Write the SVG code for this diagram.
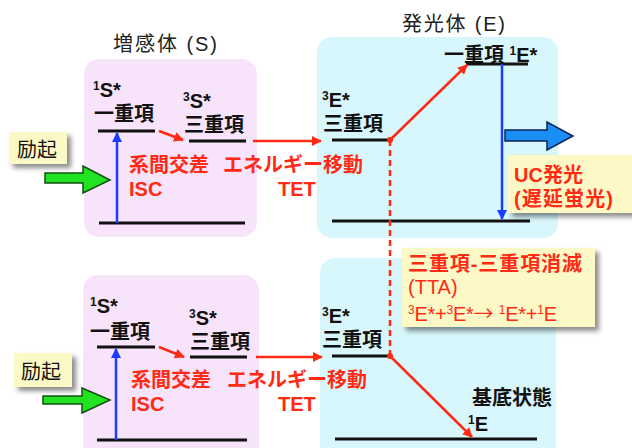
<svg xmlns="http://www.w3.org/2000/svg" width="632" height="448" viewBox="0 0 632 448">
<defs>
<style>
text{font-family:"Liberation Sans","Noto Sans CJK JP",sans-serif;}
.title{font-size:20px;fill:#222;}
.lbl{font-size:20px;font-weight:bold;fill:#111;}
.red{font-size:20px;fill:#ff2a14;font-weight:bold;}
.sup{font-size:12px;}
.cjk{font-family:"Noto Sans CJK JP",sans-serif;}
.sbox{fill:#f7e3fa;}
.ebox{fill:#d8f7fd;}
.ybox{fill:#fdf9c6;filter:url(#sh);}
.lvl{stroke:#111;stroke-width:3;fill:none;}
.ra{stroke:#ff2a14;stroke-width:2.5;fill:none;marker-end:url(#rh);}
.ba{stroke:#1a3cff;stroke-width:2.5;fill:none;marker-end:url(#bh);}
.green{fill:#22e322;stroke:#135013;stroke-width:1.5;}
.blue{fill:#1a8ef2;stroke:#0b2450;stroke-width:1.5;}
</style>
<filter id="sh" x="-20%" y="-20%" width="150%" height="160%">
<feDropShadow dx="4" dy="4" stdDeviation="2.5" flood-color="#000" flood-opacity="0.45"/>
</filter>
<marker id="rh" viewBox="0 0 10 10" refX="9" refY="5" markerWidth="4" markerHeight="4" orient="auto" markerUnits="strokeWidth">
<path d="M0,0 L10,5 L0,10 z" fill="#ff2a14"/>
</marker>
<marker id="bh" viewBox="0 0 10 10" refX="9" refY="5" markerWidth="4" markerHeight="4" orient="auto" markerUnits="strokeWidth">
<path d="M0,0 L10,5 L0,10 z" fill="#1a3cff"/>
</marker>
</defs>

<rect width="632" height="448" fill="#fff"/>

<text class="title" x="113" y="51" textLength="104" lengthAdjust="spacing">増感体 (S)</text>
<text class="title" x="402" y="31" textLength="103" lengthAdjust="spacing">発光体 (E)</text>

<g id="sens-top">
<rect class="sbox" x="84" y="59" width="173" height="178" rx="15"/>
<text class="lbl" x="93" y="97"><tspan class="sup" dy="-7">1</tspan><tspan dy="7">S*</tspan></text>
<text class="lbl" x="94" y="121">一重項</text>
<line class="lvl" x1="98" y1="131" x2="155" y2="131"/>
<text class="lbl" x="183" y="108"><tspan class="sup" dy="-7">3</tspan><tspan dy="7">S*</tspan></text>
<text class="lbl" x="184" y="132">三重項</text>
<line class="lvl" x1="189" y1="141" x2="246" y2="141"/>
<line class="lvl" x1="99" y1="223" x2="245" y2="223"/>
<text class="red" x="129" y="172">系間交差</text>
<text class="red" x="129" y="196">ISC</text>
</g>

<g id="sens-bottom">
<rect class="sbox" x="83" y="275" width="176" height="190" rx="15"/>
<text class="lbl" x="90" y="313"><tspan class="sup" dy="-7">1</tspan><tspan dy="7">S*</tspan></text>
<text class="lbl" x="90" y="339">一重項</text>
<line class="lvl" x1="97" y1="347" x2="155" y2="347"/>
<text class="lbl" x="189" y="325"><tspan class="sup" dy="-7">3</tspan><tspan dy="7">S*</tspan></text>
<text class="lbl" x="190" y="349">三重項</text>
<line class="lvl" x1="190" y1="357" x2="247" y2="357"/>
<line class="lvl" x1="97" y1="440" x2="247" y2="440"/>
<text class="red" x="131" y="387">系間交差</text>
<text class="red" x="131" y="411">ISC</text>
</g>

<g id="emit-top">
<rect class="ebox" x="317" y="37" width="241" height="201" rx="15"/>
<text class="lbl" x="322" y="107"><tspan class="sup" dy="-7">3</tspan><tspan dy="7">E*</tspan></text>
<text class="lbl" x="323" y="131">三重項</text>
<line class="lvl" x1="332" y1="140" x2="390" y2="140"/>
<text class="lbl" x="444" y="62">一重項 <tspan class="sup" dy="-7">1</tspan><tspan dy="7">E*</tspan></text>
<line class="lvl" x1="466" y1="64" x2="528" y2="64"/>
<line class="lvl" x1="332" y1="221" x2="530" y2="221"/>
</g>

<g id="emit-bottom">
<rect class="ebox" x="320" y="258" width="236" height="200" rx="15"/>
<text class="lbl" x="322" y="323"><tspan class="sup" dy="-7">3</tspan><tspan dy="7">E*</tspan></text>
<text class="lbl" x="322" y="347">三重項</text>
<line class="lvl" x1="332" y1="356" x2="390" y2="356"/>
<text class="lbl" x="472" y="405">基底状態</text>
<text class="lbl" x="468" y="431"><tspan class="sup" dy="-7">1</tspan><tspan dy="7">E</tspan></text>
<line class="lvl" x1="335" y1="439" x2="537" y2="439"/>
</g>

<g id="tet-labels">
<text class="red" x="223" y="172">エネルギー移動</text>
<text class="red" x="278" y="196">TET</text>
<text class="red" x="227" y="387">エネルギー移動</text>
<text class="red" x="278" y="411">TET</text>
</g>

<g id="excite-top">
<rect class="ybox" x="9" y="132" width="58" height="32"/>
<text class="lbl" x="17" y="157" style="font-weight:normal">励起</text>
<path class="green" d="M45,173 L83,173 L83,166 L110,180 L83,193 L83,183 L45,183 z"/>
</g>

<g id="excite-bottom">
<rect class="ybox" x="14" y="353" width="58" height="34"/>
<text class="lbl" x="21" y="379" style="font-weight:normal">励起</text>
<path class="green" d="M43,396 L82,396 L82,388 L110,400 L82,413 L82,404 L43,404 z"/>
</g>

<g id="uc">
<path class="blue" d="M505,130 L547,130 L547,122 L573,136 L547,150 L547,141 L505,141 z"/>
<rect class="ybox" x="508" y="155" width="130" height="58"/>
<text class="red" x="514" y="182">UC発光</text>
<text class="red" x="514" y="206" textLength="99" lengthAdjust="spacing">(遅延蛍光)</text>
</g>

<g id="tta">
<rect class="ybox" x="402" y="248" width="193" height="79"/>
<text class="red" x="408" y="271" textLength="174" lengthAdjust="spacing">三重項-三重項消滅</text>
<text class="red" x="408" y="294" style="font-weight:normal">(TTA)</text>
<text class="red" x="408" y="321" style="font-weight:normal" textLength="149" lengthAdjust="spacing"><tspan class="sup" dy="-7">3</tspan><tspan dy="7">E*+</tspan><tspan class="sup" dy="-7">3</tspan><tspan dy="7">E*</tspan><tspan class="cjk">→</tspan><tspan> </tspan><tspan class="sup" dy="-7">1</tspan><tspan dy="7">E*+</tspan><tspan class="sup" dy="-7">1</tspan><tspan dy="7">E</tspan></text>
</g>

<g id="connectors">
<line class="ba" x1="117" y1="223" x2="117" y2="133"/>
<line class="ba" x1="116" y1="440" x2="116" y2="349"/>
<line class="ba" x1="502" y1="64" x2="502" y2="219"/>
<line class="ra" x1="159" y1="131" x2="183" y2="140"/>
<line class="ra" x1="159" y1="347" x2="184" y2="357"/>
<line class="ra" x1="253" y1="141" x2="321" y2="141"/>
<line class="ra" x1="256" y1="357" x2="322" y2="357"/>
<line x1="390" y1="140" x2="390" y2="356" stroke="#ff2a14" stroke-width="2.5" stroke-dasharray="6 4"/>
<line class="ra" x1="390" y1="140" x2="467" y2="65"/>
<line class="ra" x1="390" y1="356" x2="472" y2="437"/>
<circle cx="390" cy="140" r="3" fill="#ff2a14"/>
<circle cx="390" cy="356" r="3" fill="#ff2a14"/>
</g>
</svg>
